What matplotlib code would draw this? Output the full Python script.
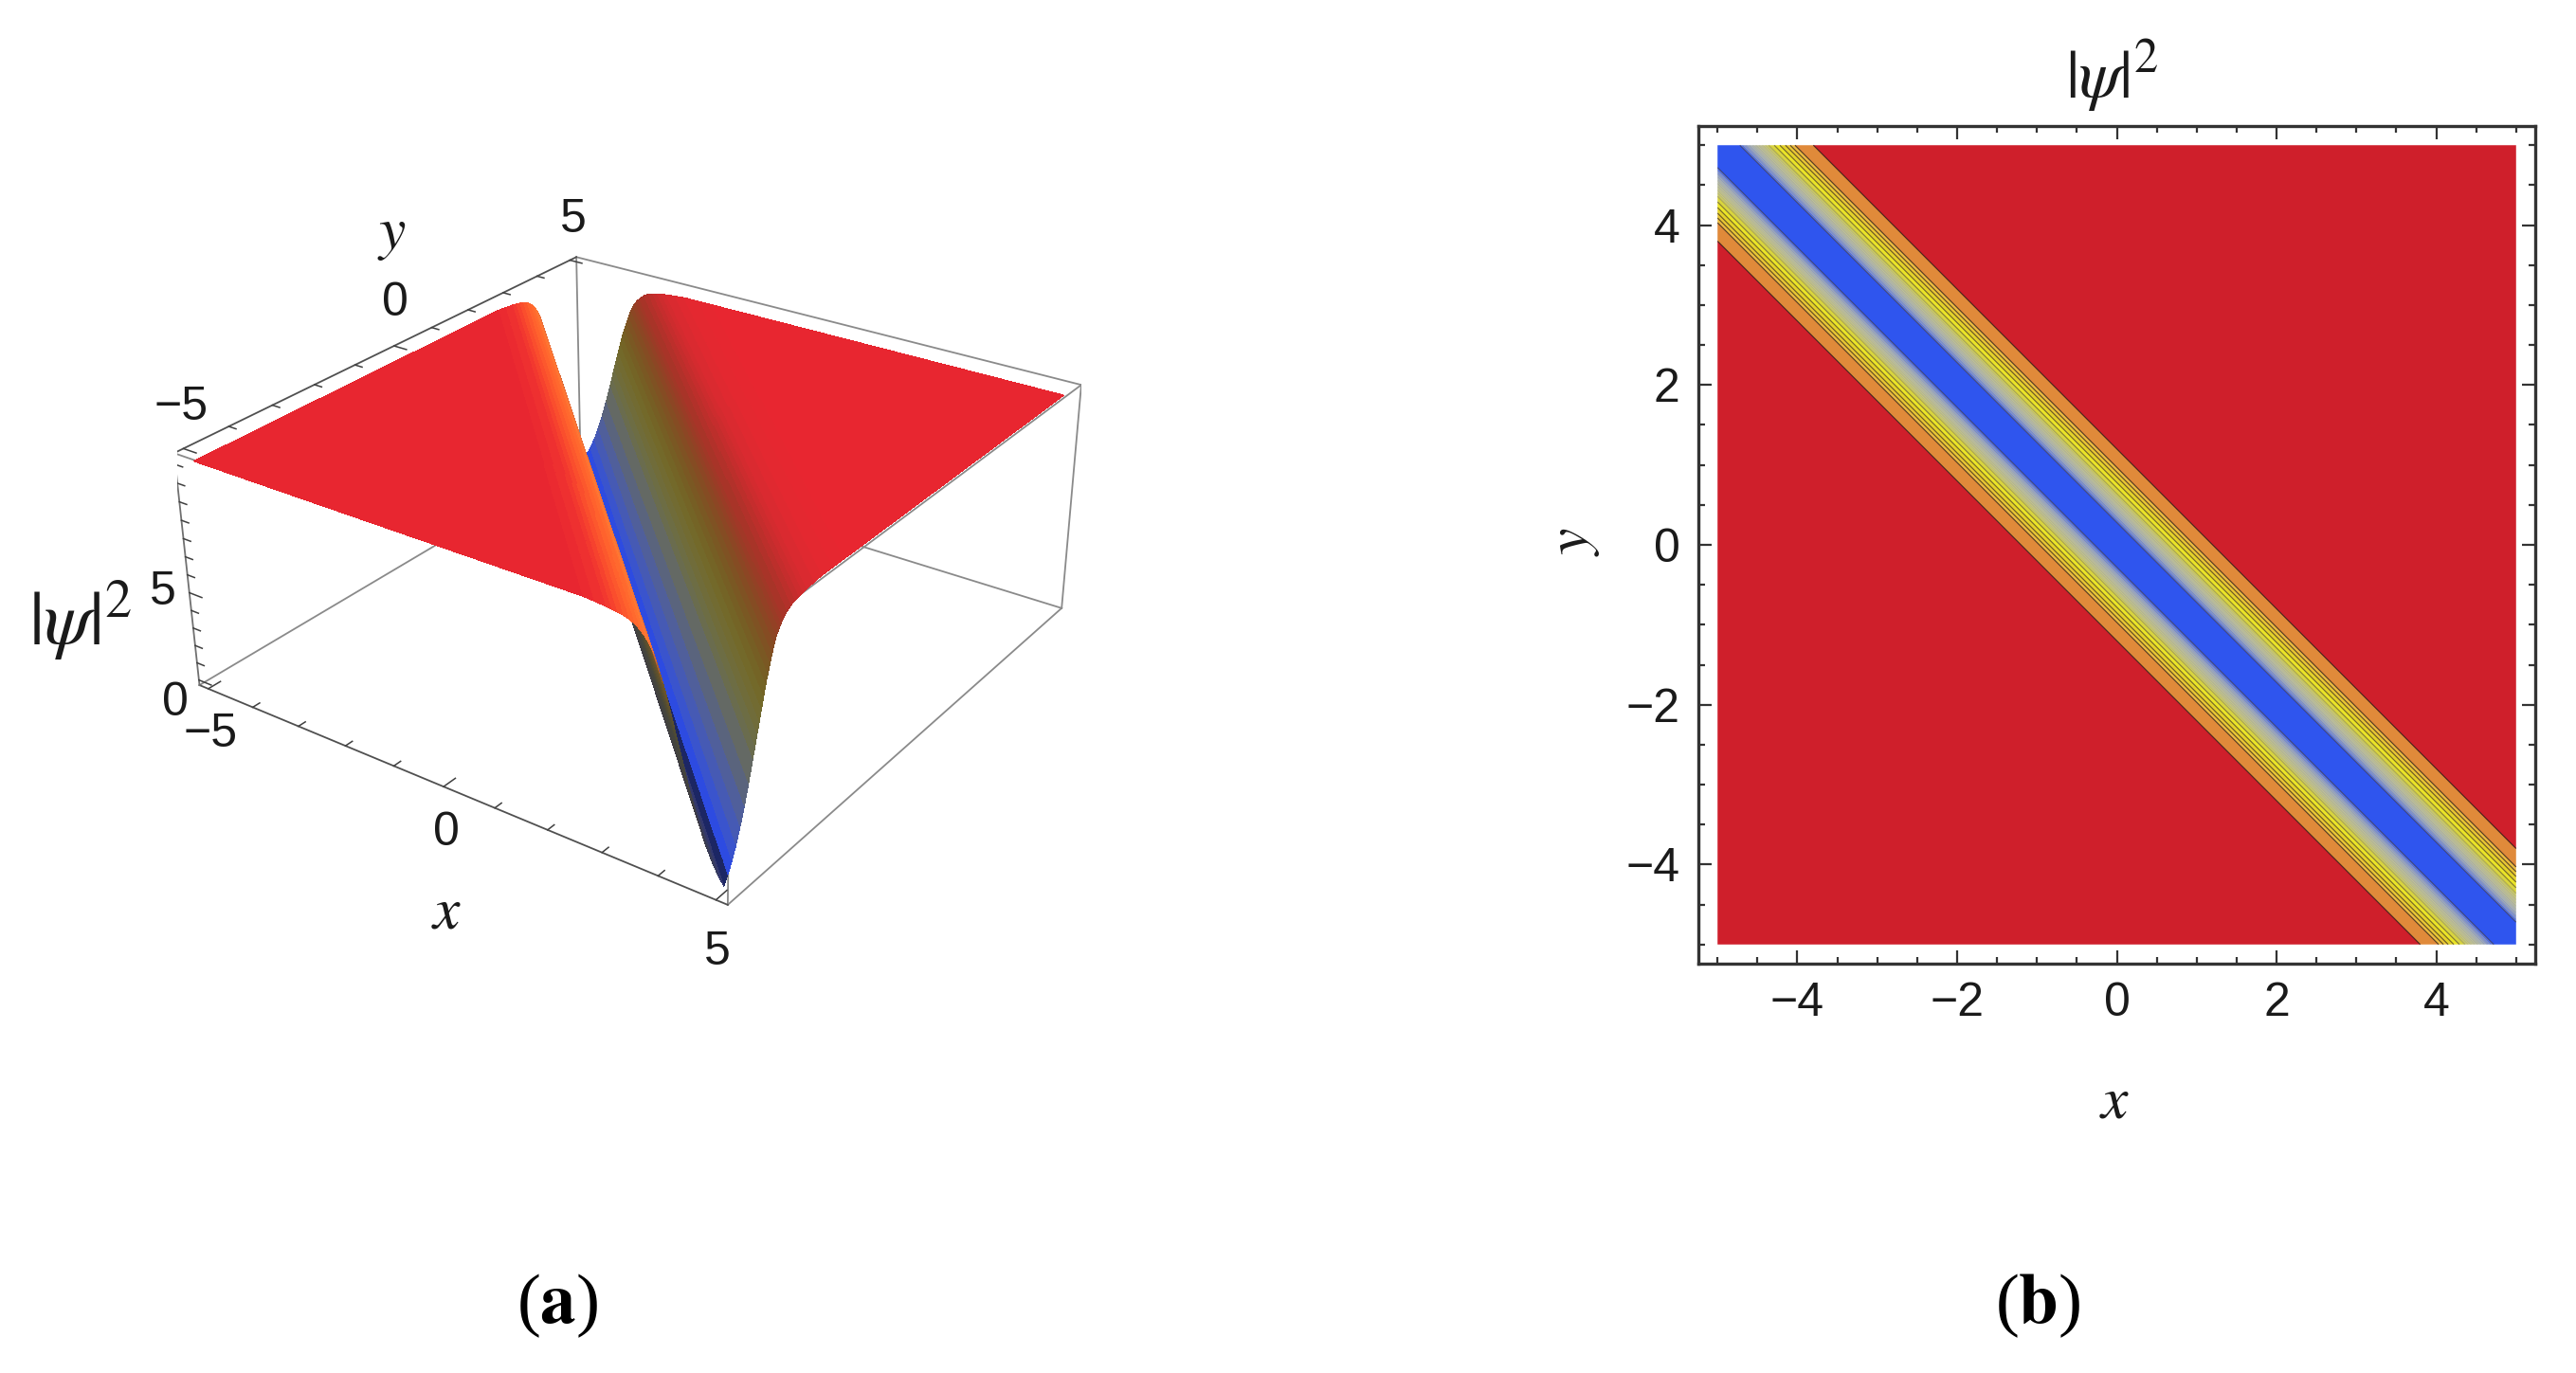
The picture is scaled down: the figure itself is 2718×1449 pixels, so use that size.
import numpy as np
import matplotlib
matplotlib.use("Agg")
import matplotlib.pyplot as plt
from matplotlib.ticker import MultipleLocator

plt.rcParams['font.family'] = ['Liberation Sans', 'DejaVu Sans']
plt.rcParams['mathtext.fontset'] = 'stix'

W, H = 2718, 1449

# cross section of the surface, read across the trough (s = x + y)
s_right = [0, .1, .2, .3, .4, .5, .6, .7, .75, .8, .85, .9, .95, 1, 1.05, 1.1, 1.15, 1.2, 1.25, 1.3, 1.35, 1.4, 1.5,
           1.6, 1.7, 1.8, 1.9, 2, 2.2, 2.4, 2.7, 3, 3.5, 4, 5, 7.5, 10]
z_right = [.05, .5, 1.05, 1.7, 2.5, 3.4, 4.4, 5.5, 6.05, 6.6, 7.15, 7.7, 8.25, 8.8, 9.25, 9.7, 10.1, 10.5, 10.8, 11, 11.2, 11.35, 11.6,
           11.75, 11.85, 11.9, 11.95, 12, 12.05, 12.1, 12.1, 12.1, 12.1, 12.1, 12.1, 12.1, 12.1]

# facet colours from the trough outwards
col_right = [(28,38,100),(45,75,225),(58,84,205),(70,90,180),(80,95,155),(90,100,125),(100,105,100),
             (106,108,78),(109,109,68),(112,108,58),(114,107,50),(115,105,42),(116,100,38),(118,94,36),(122,88,35),(127,82,35),(133,76,35),
             (140,70,36),(147,65,37),(154,60,38),(161,56,39),(168,52,40),(178,49,42),(188,47,43),(197,45,45),(205,44,46),
             (212,43,47),(218,42,48),(224,41,48),(228,40,48),(230,39,48),(232,38,48),(232,38,48),(232,38,48),(232,38,48),(232,38,48),(232,38,48)]
col_left = [(28,38,100),(50,55,110),(55,60,95),(58,60,85),(60,60,75),(62,60,70),(66,65,65),
            (68,68,62),(70,70,60),(75,72,55),(80,75,50),(88,78,47),(95,80,45),(103,83,42),(110,85,40),(140,90,45),(170,95,50),
            (200,102,55),(230,110,60),(245,115,55),(255,120,50),(255,112,48),(255,105,46),(255,98,45),(252,88,45),(250,78,45),
            (246,66,46),(242,56,47),(238,48,48),(235,42,48),(232,38,48),(232,38,48),(232,38,48),(232,38,48),(232,38,48),(232,38,48),(232,38,48)]

# contour bands of panel b, from the trough out to the plateau
band_edges = [.28, .32, .36, .40, .44, .48, .52, .56, .60, .64, .71, .78, .85, .91, .97, 1.2]
band_colors = ['#2f55ee', '#5a76e0', '#7f93d0', '#9aa8c2', '#aab4b6', '#b4baa8', '#bcc09c', '#c0c290', '#c6c680',
               '#cccc66', '#d8d440', '#eae428', '#e4d22a', '#e8c634', '#eaba40', '#e08a3a', '#cf1f2b']
line_alpha = [.5, .12, .12, .12, .12, .12, .12, .12, .12, .25, .5, .6, .65, .7, .75, .8]

xticks3d = [-5, 0, 5]
zticks3d = [0, 5]
ticks2d = [-4, -2, 0, 2, 4]

fig = plt.figure(figsize=(W/100, H/100), dpi=100)

def px(x, y):
    return x/W, 1-y/H

# ---- panel a
lo, hi, zb, zt = -5.2, 5.2, -0.3, 12.6
ax = fig.add_axes([186.6/W, 394.7/H, 954.2/W, 954.2/H], projection='3d')
ax.set_xlim(lo, hi, view_margin=0)
ax.set_ylim(lo, hi, view_margin=0)
ax.set_zlim(zb, zt, view_margin=0)
ax.view_init(27.51, -54.23, 0.42)
ax.set_proj_type('persp', focal_length=0.477)
ax.set_box_aspect((1, 1, 0.405))
ax.set_axis_off()
ax.computed_zorder = False
ax.patch.set_alpha(0)

s_all = np.array([-v for v in s_right[:0:-1]] + s_right)
z_all = np.array(z_right[:0:-1] + z_right)
c_all = np.array(col_left[:0:-1] + col_right, float)/255
u = np.linspace(-1, 1, 41)
T = np.outer(10-np.abs(s_all), u)
S = np.repeat(s_all[:, None], len(u), axis=1)
Xs = (S+T)/2
Ys = (S-T)/2
Zs = np.repeat(z_all[:, None], len(u), axis=1)
fc = np.repeat(c_all[:, None, :], len(u), axis=1)
ax.plot_surface(Xs, Ys, Zs, facecolors=fc, rstride=1, cstride=1, shade=False,
                linewidth=0, antialiased=False, zorder=2)

def edge(a, b, z=1, c='#8a8a8a', lw=1.3):
    ax.plot([a[0], b[0]], [a[1], b[1]], [a[2], b[2]], color=c, lw=lw, zorder=z)

# back edges sit behind the surface, front ones on top of it
edge((lo,lo,zb), (lo,hi,zb))
edge((lo,hi,zb), (hi,hi,zb))
edge((lo,hi,zb), (lo,hi,zt))
edge((hi,lo,zb), (hi,lo,zt))
edge((lo,lo,zt), (hi,lo,zt))
edge((hi,lo,zt), (hi,hi,zt))
edge((lo,hi,zt), (hi,hi,zt), 3)
edge((hi,hi,zb), (hi,hi,zt), 3)
edge((hi,lo,zb), (hi,hi,zb), 3)
edge((lo,lo,zb), (hi,lo,zb), 3, '#505050')
edge((lo,lo,zt), (lo,hi,zt), 3, '#505050')
edge((lo,lo,zb), (lo,lo,zt), 3, '#707070')

for t in range(-5, 6):
    d = .28 if t in xticks3d else .16
    edge((t,lo,zb), (t,lo+d,zb), 3, '#404040', 1.1)
    edge((lo,t,zt), (lo+d,t,zt), 3, '#404040', 1.1)
for t in range(0, 13):
    d = .28 if t in zticks3d else .16
    edge((lo,lo,t), (lo+d,lo,t), 3, '#404040', 1.1)

def tl(x, y, s, size=36, **kw):
    fig.text(*px(x, y), s, fontsize=size, ha='center', va='center', color='#1a1a1a', **kw)

tl(185, 742, '0')
tl(172, 625, '5')
tl(222, 775, '\u22125')
tl(471, 879, '0')
tl(757, 1005, '5')
tl(191, 430, '\u22125')
tl(417, 320, '0')
tl(605, 232, '5')
tl(471, 962, r'$x$', 46)
tl(413, 247, r'$y$', 46)
tl(85, 655, r'$|\psi|^2$', 58)

# ---- panel b
bx = fig.add_axes([1792/W, 1-1017/H, 883/W, 884/H])
xs = np.linspace(-5, 5, 51)
X, Y = np.meshgrid(xs, xs)
levels = [-12] + [-v for v in band_edges[::-1]] + band_edges + [12]
colors = band_colors[::-1] + band_colors[1:]
bx.contourf(X, Y, X+Y, levels=levels, colors=colors, antialiased=True)
line_cols = [(.12, .06, .04, a) for a in line_alpha[::-1] + line_alpha]
bx.contour(X, Y, X+Y, levels=levels[1:-1], colors=line_cols, linewidths=0.8)
bx.set_xlim(-5.24, 5.24)
bx.set_ylim(-5.24, 5.24)
bx.xaxis.set_major_locator(MultipleLocator(2))
bx.yaxis.set_major_locator(MultipleLocator(2))
bx.xaxis.set_minor_locator(MultipleLocator(.5))
bx.yaxis.set_minor_locator(MultipleLocator(.5))
bx.set_xticks(ticks2d)
bx.set_yticks(ticks2d)
bx.tick_params(which='major', direction='in', top=True, right=True, length=10, width=1.6, color='#333333',
               labelsize=36, pad=14, labelcolor='#1a1a1a')
bx.tick_params(which='minor', direction='in', top=True, right=True, length=5, width=1.6, color='#333333')
for sp in bx.spines.values():
    sp.set_linewidth(2.4)
    sp.set_color('#333333')

tl(2231, 1162, r'$x$', 46)
fig.text(*px(1660, 572), r'$y$', fontsize=46, rotation=90, ha='center', va='center', color='#1a1a1a')
tl(2228, 80, r'$|\psi|^2$', 52)

# captions
for cx, letter in ((588, 'a'), (2150, 'b')):
    fig.text(*px(cx, 1378), '($\\mathbf{%s}$)' % letter, fontsize=54, ha='center', va='center',
             family='Liberation Serif')

fig.savefig('out.png', dpi=100)
